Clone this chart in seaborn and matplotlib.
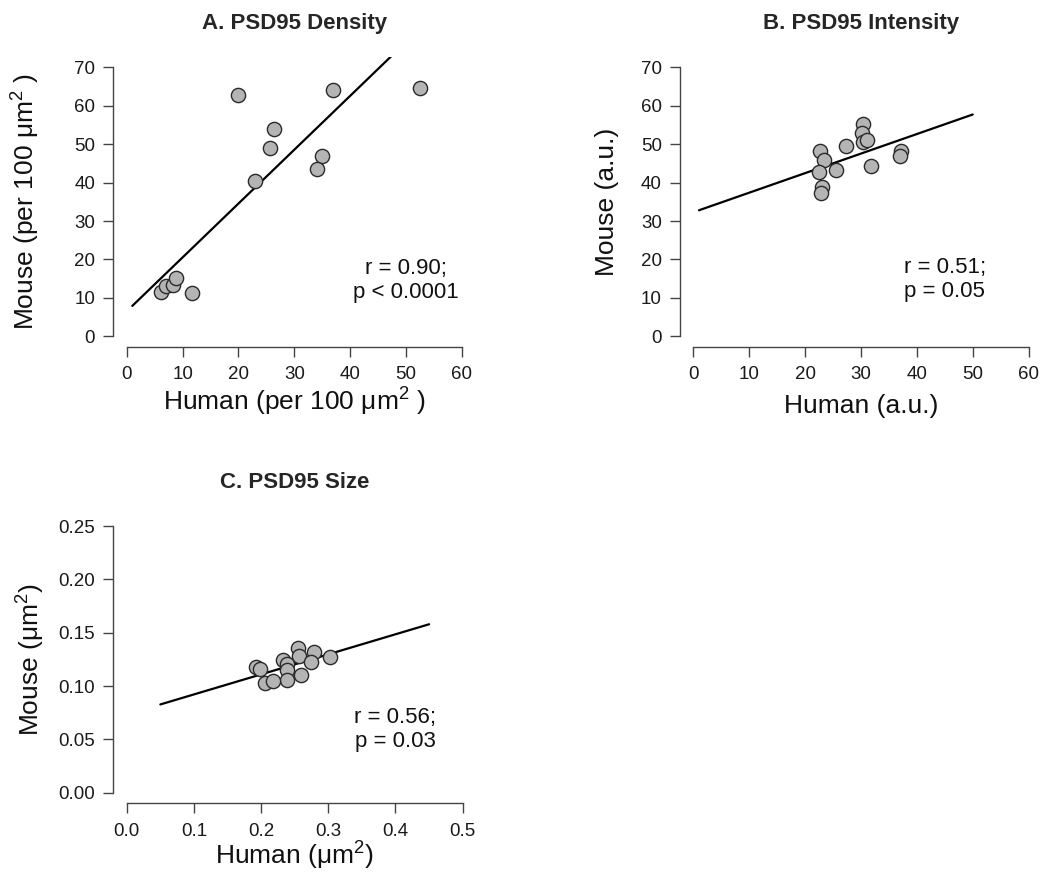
import matplotlib
matplotlib.use("Agg")
import matplotlib.pyplot as plt
import numpy as np
import pandas as pd
import seaborn as sns

# ---- data ---------------------------------------------------------------
density_human = [20.0, 36.9, 52.4, 26.3, 25.6, 35.0, 34.0, 23.0, 11.7, 6.1, 7.0, 8.3, 8.9]
density_mouse = [62.9, 64.2, 64.6, 53.9, 49.0, 47.0, 43.6, 40.5, 11.3, 11.5, 13.1, 13.3, 15.1]

intensity_human = [30.4, 30.2, 30.3, 31.1, 27.3, 22.7, 23.4, 25.6, 22.4, 31.8, 37.1, 37.0, 23.1, 22.9]
intensity_mouse = [55.3, 53.0, 50.6, 51.1, 49.5, 48.2, 45.9, 43.3, 42.8, 44.4, 48.2, 46.9, 38.9, 37.2]

size_human = [0.255, 0.256, 0.279, 0.274, 0.302, 0.232, 0.239, 0.238, 0.259, 0.239,
              0.206, 0.217, 0.192, 0.198]
size_mouse = [0.136, 0.128, 0.132, 0.123, 0.127, 0.1245, 0.121, 0.115, 0.110, 0.106,
              0.103, 0.1045, 0.118, 0.116]

# fitted lines: intercept, slope, x-range drawn
fit_intercept = [6.5, 32.3, 0.0734]
fit_slope = [1.403, 0.509, 0.188]
fit_xrange = [(1.0, 50.0), (1.0, 50.0), (0.05, 0.45)]

stats_text = ["r = 0.90;\np < 0.0001", "r = 0.51;\np = 0.05", "r = 0.56;\np = 0.03"]
stats_pos = [(50, 14.5), (45, 14.7), (0.40, 0.059)]

titles = ["A. PSD95 Density", "B. PSD95 Intensity", "C. PSD95 Size"]
xlabels = ["Human (per 100 μm$^2$ )", "Human (a.u.)", "Human (μm$^2$)"]
ylabels = ["Mouse (per 100 μm$^2$ )", "Mouse (a.u.)", "Mouse (μm$^2$)"]

xticks = [[0, 10, 20, 30, 40, 50, 60], [0, 10, 20, 30, 40, 50, 60],
          [0.0, 0.1, 0.2, 0.3, 0.4, 0.5]]
yticks = [[0, 10, 20, 30, 40, 50, 60, 70], [0, 10, 20, 30, 40, 50, 60, 70],
          [0.00, 0.05, 0.10, 0.15, 0.20, 0.25]]
xtick_fmt = ["{:.0f}", "{:.0f}", "{:.1f}"]
ytick_fmt = ["{:.0f}", "{:.0f}", "{:.2f}"]

# ---- style --------------------------------------------------------------
sns.set_style("ticks")
plt.rcParams["font.family"] = ["Liberation Sans", "DejaVu Sans"]
plt.rcParams["mathtext.default"] = "regular"

W, H = 1042, 883
fig = plt.figure(figsize=(W / 100, H / 100), dpi=100)

def px_axes(left, top, right, bottom):
    return fig.add_axes([left / W, 1 - bottom / H, (right - left) / W, (bottom - top) / H])

axes = [
    px_axes(113.3, 56.7, 475.4, 347.0),
    px_axes(680.0, 56.7, 1042.0, 347.0),
    px_axes(113.3, 515.5, 476.1, 803.4),
]

panels = [
    (density_human, density_mouse),
    (intensity_human, intensity_mouse),
    (size_human, size_mouse),
]

ylabel_x = [-0.197, -0.168, -0.184]
xlabel_y = [-0.132, -0.162, -0.128]

axis_color = "#444444"

for i, ax in enumerate(axes):
    hx, my = panels[i]
    df = pd.DataFrame({"human": hx, "mouse": my})

    # regression line
    x0, x1 = fit_xrange[i]
    line_df = pd.DataFrame({"x": [x0, x1],
                            "y": [fit_intercept[i] + fit_slope[i] * x0,
                                  fit_intercept[i] + fit_slope[i] * x1]})
    sns.lineplot(data=line_df, x="x", y="y", ax=ax, color="black", linewidth=1.6, zorder=2)

    sns.scatterplot(data=df, x="human", y="mouse", ax=ax, s=105, color="#b4b4b4",
                    edgecolor="#2a2a2a", linewidth=1.0, zorder=3)

    xt, yt = xticks[i], yticks[i]
    xr = xt[-1] - xt[0]
    yr = yt[-1] - yt[0]
    ax.set_xlim(xt[0] - 0.04 * xr, xt[-1] + 0.04 * xr)
    ax.set_ylim(yt[0] - 0.04 * yr, yt[-1] + 0.04 * yr)
    ax.set_xticks(xt)
    ax.set_yticks(yt)
    ax.set_xticklabels([xtick_fmt[i].format(v) for v in xt])
    ax.set_yticklabels([ytick_fmt[i].format(v) for v in yt])

    for s in ["top", "right"]:
        ax.spines[s].set_visible(False)
    ax.spines["left"].set_bounds(yt[0], yt[-1])
    ax.spines["bottom"].set_bounds(xt[0], xt[-1])
    for s in ["left", "bottom"]:
        ax.spines[s].set_color(axis_color)
        ax.spines[s].set_linewidth(1.0)
    ax.tick_params(axis="both", length=7, width=1.0, color=axis_color,
                   labelsize=13.5, labelcolor="#1a1a1a", pad=6)
    ax.tick_params(axis="x", pad=7)

    ax.set_xlabel(xlabels[i], fontsize=19, color="#111111")
    ax.set_ylabel(ylabels[i], fontsize=19, color="#111111")
    ax.yaxis.set_label_coords(ylabel_x[i], 0.5)
    ax.xaxis.set_label_coords(0.5, xlabel_y[i])

    ax.set_title(titles[i], fontsize=16, fontweight="bold", pad=20)

    tx, ty = stats_pos[i]
    ax.text(tx, ty, stats_text[i], ha="center", va="center", fontsize=16,
            color="#111111", linespacing=1.2)

fig.savefig("out.png", dpi=100)
